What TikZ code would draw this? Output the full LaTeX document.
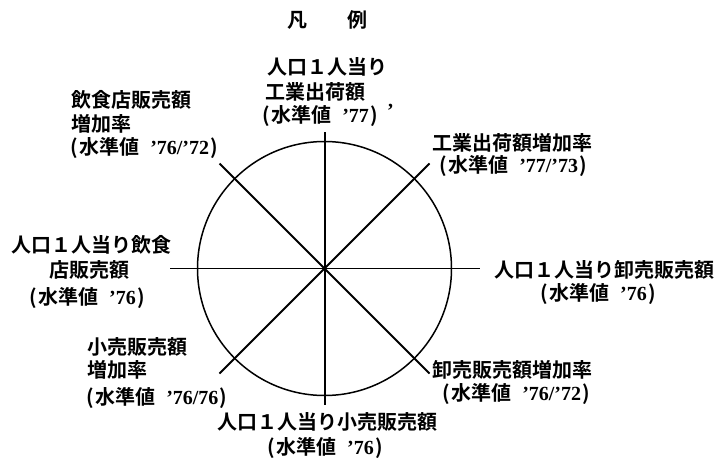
\documentclass[tikz,border=0pt]{standalone}
\usepackage{fontspec}
\setmainfont{Noto Sans CJK JP}[BoldFont={* Bold}]
\newfontfamily\jpm{Noto Sans CJK JP Bold}
\newfontfamily\dg{Liberation Serif Bold}
\newcommand\lv[1]{(\kern1.5pt 水準値\hspace{11pt}{\dg #1}\kern1.5pt)}
\tikzset{
  lab/.style={inner sep=0pt, font=\jpm\fontsize{20}{24}\selectfont},
  ttl/.style={inner sep=0pt, font=\jpm\fontsize{20}{24}\selectfont},
  vax/.style={line width=2pt, black},
  hax/.style={line width=1.3pt, black},
  dax/.style={line width=1.8pt, black},
  circ/.style={line width=1.5pt, black}
}
\begin{document}
\begin{tikzpicture}[x=1pt,y=-1pt]
\useasboundingbox[fill=white] (0,0) rectangle (723,466);
% geometry
\coordinate (O) at (324.5,268.5);
\coordinate (N) at (324.5,132);
\coordinate (S) at (324.5,405);
\coordinate (W) at (170,268.5);
\coordinate (E) at (480,268.5);
\coordinate (NW) at (219.5,163.5);
\coordinate (NE) at (429.5,163.5);
\coordinate (SW) at (219.5,373.5);
\coordinate (SE) at (429.5,373.5);
\draw[circ] (O) circle[radius=127];
\draw[vax] (N) -- (S);
\draw[hax] (W) -- (E);
\draw[dax] (NW) -- (SE);
\draw[dax] (NE) -- (SW);
% title
\node[ttl, anchor=base] (title) at (327,27) {凡\hspace{40pt}例};
% top
\node[lab, anchor=base west] (t1) at (267,74) {人口１人当り};
\node[lab, anchor=base west] (t2) at (265,99) {工業出荷額};
\node[lab, anchor=base west] (t3) at (262,122) {\lv{’77}};
\node[lab, anchor=base west] (t4) at (387,117) {\dg ’};
% north-west
\node[lab, anchor=base west] (nw1) at (71,107) {飲食店販売額};
\node[lab, anchor=base west] (nw2) at (71,131) {増加率};
\node[lab, anchor=base west] (nw3) at (70,154) {\lv{’76/’72}};
% north-east
\node[lab, anchor=base west] (ne1) at (432,150) {工業出荷額増加率};
\node[lab, anchor=base west] (ne2) at (439,172) {\lv{’77/’73}};
% west
\node[lab, anchor=base] (w1) at (92,252) {人口１人当り飲食};
\node[lab, anchor=base] (w2) at (89,277) {店販売額};
\node[lab, anchor=base] (w3) at (87,304) {\lv{’76}};
% east
\node[lab, anchor=base] (e1) at (604,277) {人口１人当り卸売販売額};
\node[lab, anchor=base] (e2) at (598,300) {\lv{’76}};
% south-west
\node[lab, anchor=base west] (sw1) at (87,354) {小売販売額};
\node[lab, anchor=base west] (sw2) at (87,377) {増加率};
\node[lab, anchor=base west] (sw3) at (86,404) {\lv{’76/76}};
% south
\node[lab, anchor=base] (s1) at (327,429) {人口１人当り小売販売額};
\node[lab, anchor=base] (s2) at (325,454) {\lv{’76}};
% south-east
\node[lab, anchor=base west] (se1) at (432,377) {卸売販売額増加率};
\node[lab, anchor=base west] (se2) at (442,400) {\lv{’76/’72}};
\end{tikzpicture}
\end{document}
